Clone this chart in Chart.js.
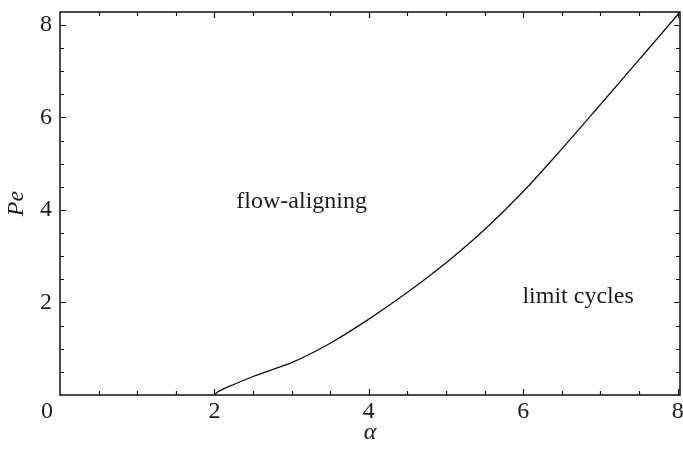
<!DOCTYPE html>
<html>
<head>
<meta charset="utf-8">
<script src="https://cdn.jsdelivr.net/npm/chart.js@4"></script>
<style>
  html, body { margin: 0; padding: 0; background: #fff; }
  #wrap { width: 683px; height: 449px; }
</style>
</head>
<body>
<div id="wrap"><canvas id="graph"></canvas></div>
<script>
// boundary between the two regimes
const alpha = [2.0, 2.03, 2.08, 2.2, 2.5, 2.75, 3.0, 3.5, 4.0, 4.5, 5.0, 5.5, 6.0, 6.5, 7.0, 7.5, 8.0, 8.03];
const pe = [0.0, 0.05, 0.1, 0.19, 0.4, 0.55, 0.7, 1.12, 1.64, 2.22, 2.86, 3.58, 4.40, 5.32, 6.28, 7.25, 8.22, 8.28];

const xTicks = [0, 2, 4, 6, 8];
const yTicks = [2, 4, 6, 8];
const regionLabels = ["flow-aligning", "limit cycles"];

const serif = "'Liberation Serif', 'Times New Roman', Times, serif";
const ink = "#1c1c1c";

// frame, inward ticks on all four sides, corner "0" and region labels
const frame = {
  id: "frame",
  afterDraw(chart) {
    const { ctx, chartArea: a } = chart;
    const x = chart.scales.x, y = chart.scales.y;
    ctx.save();
    ctx.strokeStyle = "#111";
    ctx.lineWidth = 1.2;
    ctx.beginPath();
    for (let v = 0.5; v <= 8; v += 0.5) {
      const len = Number.isInteger(v / 2) ? 6 : 4;
      const px = Math.round(x.getPixelForValue(v)) + 0.5;
      ctx.moveTo(px, a.bottom); ctx.lineTo(px, a.bottom - len);
      ctx.moveTo(px, a.top); ctx.lineTo(px, a.top + len);
      const py = Math.round(y.getPixelForValue(v)) + 0.5;
      ctx.moveTo(a.left, py); ctx.lineTo(a.left + len, py);
      ctx.moveTo(a.right, py); ctx.lineTo(a.right - len, py);
    }
    ctx.stroke();
    ctx.lineWidth = 1.5;
    ctx.strokeRect(a.left, a.top, a.right - a.left, a.bottom - a.top);

    ctx.fillStyle = ink;
    ctx.font = "24px " + serif;
    ctx.textAlign = "center";
    ctx.textBaseline = "middle";
    ctx.fillText(String(xTicks[0]), x.getPixelForValue(0) - 13, a.bottom + 17);

    ctx.textBaseline = "alphabetic";
    ctx.fillText(regionLabels[0], x.getPixelForValue(3.13), y.getPixelForValue(4.04));
    ctx.fillText(regionLabels[1], x.getPixelForValue(6.71), y.getPixelForValue(1.99));
    ctx.restore();
  }
};

new Chart(document.getElementById("graph"), {
  type: "line",
  data: {
    datasets: [{
      data: alpha.map((a, i) => ({ x: a, y: pe[i] })),
      borderColor: "#111",
      borderWidth: 1.3,
      pointRadius: 0,
      fill: false,
      cubicInterpolationMode: "monotone"
    }]
  },
  options: {
    responsive: true,
    maintainAspectRatio: false,
    animation: false,
    layout: { padding: { left: 0, right: 3, top: 12, bottom: 0 } },
    plugins: { legend: { display: false }, tooltip: { enabled: false } },
    scales: {
      x: {
        type: "linear",
        min: 0,
        max: 8.03,
        afterBuildTicks: (s) => { s.ticks = xTicks.map((v) => ({ value: v })); },
        afterFit: (s) => { s.height = 54; s.paddingLeft = 0; s.paddingRight = 0; },
        ticks: {
          color: ink,
          font: { family: serif, size: 24 },
          padding: 2,
          maxRotation: 0,
          autoSkip: false,
          callback: (v) => (v === 0 ? "" : String(v))
        },
        grid: { display: false, drawTicks: false },
        border: { display: false },
        title: {
          display: true,
          text: "α",
          color: ink,
          font: { family: serif, size: 24, style: "italic" },
          padding: { top: 0, bottom: 2 }
        }
      },
      y: {
        type: "linear",
        min: 0,
        max: 8.28,
        afterBuildTicks: (s) => { s.ticks = yTicks.map((v) => ({ value: v })); },
        afterFit: (s) => { s.width = 60; s.paddingTop = 0; s.paddingBottom = 0; },
        ticks: {
          color: ink,
          font: { family: serif, size: 24 },
          padding: 8
        },
        grid: { display: false, drawTicks: false },
        border: { display: false },
        title: {
          display: true,
          text: "Pe",
          color: ink,
          font: { family: serif, size: 24, style: "italic" },
          padding: { top: 2, bottom: 0 }
        }
      }
    }
  },
  plugins: [frame]
});
</script>
</body>
</html>
